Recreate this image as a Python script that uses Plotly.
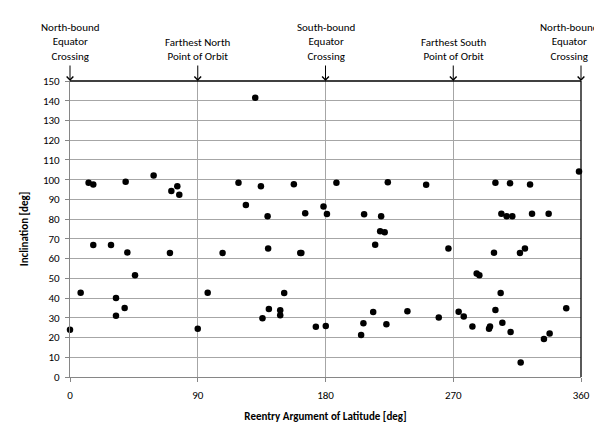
import plotly.graph_objects as go

# Reentry argument of latitude [deg]
arg_lat = [0, 7.5, 13.1, 16.4, 16.4, 28.9, 32.4, 32.4, 38.5, 39.2, 40.4, 45.8, 58.9,
           70.4, 71.4, 75.6, 77, 90, 97, 107.5,
           118.7, 123.9, 130.5, 134.5, 135.6, 139.2, 139.6, 140.1, 148.1, 148.1, 150.9,
           157.7, 162.2, 163, 165.7, 173.2, 178.6, 180.2, 181, 187.7, 205.1, 206.7,
           207.2, 213.6, 215, 218.5, 219.2, 221.7, 222.9, 223.9, 237.7,
           250.9, 259.8, 266.6, 273.8, 277.4, 283.5, 286.5, 288.4, 295.2, 295.9,
           298.7, 299.7, 299.7, 303.4, 303.9, 304.6, 307.6, 310, 310.4, 311.6,
           317, 317.5, 320.5, 324.1, 325.5, 333.9, 337.2, 337.9, 349.6, 358.6]
# Inclination [deg]
inclination = [24, 42.7, 98.4, 97.5, 66.9, 66.9, 40, 31, 35, 98.9, 63.1, 51.5, 102.1,
               62.8, 94.3, 96.7, 92.3, 24.5, 42.7, 62.8,
               98.4, 87.2, 141.5, 96.7, 29.8, 81.4, 65.1, 34.5, 33.8, 31.3, 42.6,
               97.7, 62.8, 62.8, 83, 25.5, 86.4, 25.8, 82.6, 98.4, 21.3, 27.3,
               82.5, 33, 67, 73.8, 81.4, 73.3, 26.7, 98.7, 33.3,
               97.4, 30.2, 65.1, 33.1, 30.6, 25.6, 52.5, 51.6, 24.5, 25.6,
               63, 98.5, 34, 42.6, 82.7, 27.5, 81.5, 98.2, 22.8, 81.5,
               62.8, 7.4, 65.1, 97.5, 82.7, 19.3, 82.7, 22, 34.8, 104.1]

x_ticks = [0, 90, 180, 270, 360]
y_ticks = list(range(0, 151, 10))
orbit_points = [0, 90, 180, 270, 360]
orbit_labels = ["North-bound<br>Equator<br>Crossing",
                "Farthest North<br>Point of Orbit",
                "South-bound<br>Equator<br>Crossing",
                "Farthest South<br>Point of Orbit",
                "North-bound<br>Equator<br>Crossing"]
label_shift = [0, 0, 0, 0, -12]

FONT = "Carlito, Calibri, Lato, sans-serif"

fig = go.Figure()
fig.add_trace(go.Scatter(
    x=arg_lat, y=inclination, mode="markers",
    marker=dict(color="black", size=6.5),
    cliponaxis=False, showlegend=False,
))

annotations = []
for xp, lab, sh in zip(orbit_points, orbit_labels, label_shift):
    annotations.append(dict(
        x=xp, y=150, xref="x", yref="y", text="", showarrow=True,
        ax=0, ay=-17, arrowhead=4, arrowsize=1.3, arrowwidth=1, arrowcolor="#000000",
    ))
    annotations.append(dict(
        x=xp, y=1, xref="x", yref="paper", text=lab, showarrow=False,
        yanchor="bottom", yshift=16, xshift=sh, align="center",
        font=dict(family=FONT, size=11, color="#000000"),
    ))

fig.update_layout(
    width=602, height=424,
    margin=dict(l=62, r=29, t=73, b=47),
    paper_bgcolor="white", plot_bgcolor="white",
    font=dict(family=FONT, size=11, color="#000000"),
    annotations=annotations,
    shapes=[
        dict(type="line", xref="paper", yref="paper", x0=0, x1=1, y0=1, y1=1,
             line=dict(color="#000000", width=1.3)),
        dict(type="line", xref="paper", yref="paper", x0=1, x1=1, y0=0, y1=1,
             line=dict(color="#000000", width=1.3)),
    ],
)
fig.update_xaxes(
    range=[0, 360], tickvals=x_ticks, ticks="outside", ticklen=4, tickcolor="#868686",
    ticklabelstandoff=4,
    showline=True, linecolor="#868686", linewidth=1.3,
    showgrid=True, gridcolor="#a6a6a6", gridwidth=1.3, zeroline=False,
    title=dict(text="<b>Reentry Argument of Latitude [deg]</b>", standoff=10,
               font=dict(family=FONT, size=11)),
    tickfont=dict(family=FONT, size=11, color="#000000"),
)
fig.update_yaxes(
    range=[0, 150], tickvals=y_ticks, ticks="outside", ticklen=4, tickcolor="#868686",
    ticklabelstandoff=3,
    showline=True, linecolor="#868686", linewidth=1.3,
    showgrid=True, gridcolor="#a6a6a6", gridwidth=1.3, zeroline=False,
    title=dict(text="<b>Inclination [deg]</b>", standoff=12,
               font=dict(family=FONT, size=11)),
    tickfont=dict(family=FONT, size=11, color="#000000"),
)

fig.write_html("out.html")
